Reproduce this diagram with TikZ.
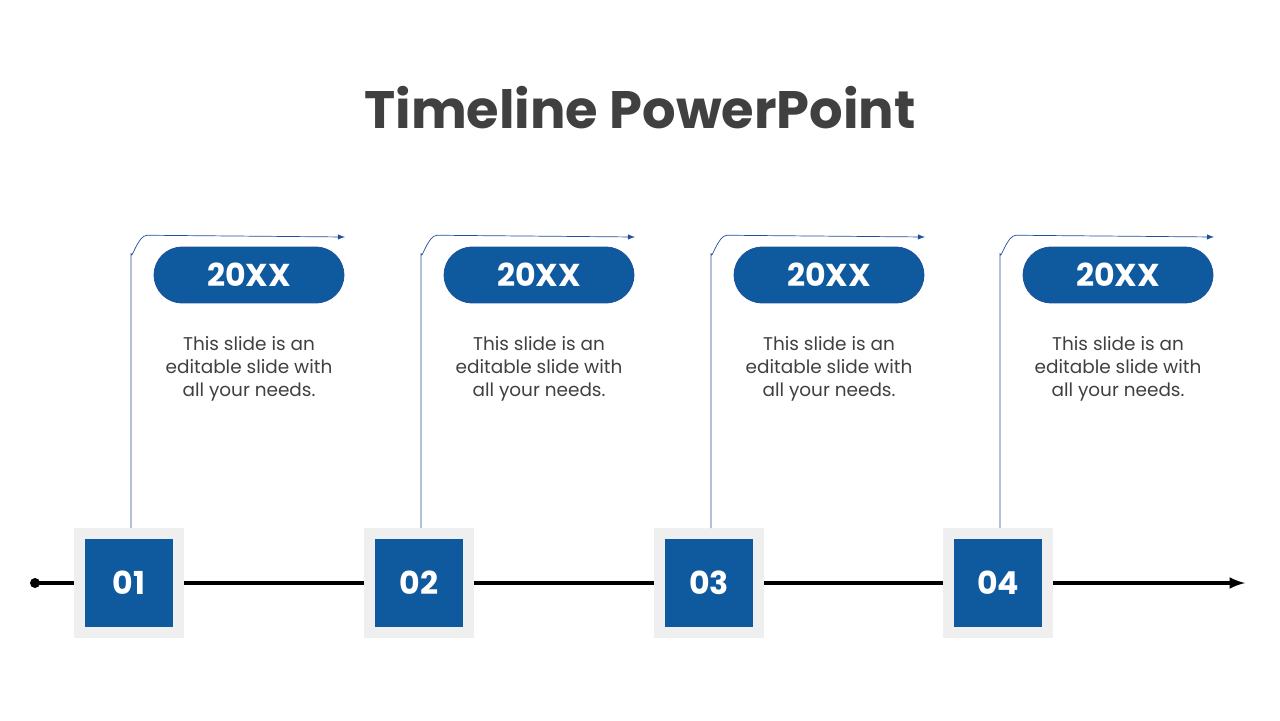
\documentclass[tikz,border=0pt]{standalone}
\usepackage{fontspec}
\setmainfont{Poppins}
\usetikzlibrary{positioning}
\definecolor{tlblue}{HTML}{0F5A9E}
\definecolor{tlline}{HTML}{1F4E9C}
\definecolor{tlgray}{HTML}{404040}
\definecolor{tlframe}{HTML}{EFEFEF}
\begin{document}
\begin{tikzpicture}[x=0.02cm,y=-0.02cm,>=latex,
  every node/.style={align=center},
  numbox/.style={fill=tlblue,draw=tlframe,line width=6pt,minimum size=1.98cm,inner sep=0pt,
    text=white,font=\bfseries\fontsize{18}{20}\selectfont},
  yearpill/.style={fill=tlblue,draw=tlline,rounded corners=0.56cm,minimum width=3.8cm,minimum height=1.12cm,
    text=white,font=\bfseries\fontsize{18}{20}\selectfont},
  desc/.style={text=tlgray,font=\fontsize{10.5}{13}\selectfont}]
  \useasboundingbox (0,0) rectangle (1280,720);
  \node[text=tlgray,font=\bfseries\fontsize{30}{34}\selectfont] (title) at (640,108) {Timeline PowerPoint};
  % main axis
  \fill (35,583) circle (5);
  \coordinate (start) at (35,583);
  \coordinate (end) at (1245,583);
  \draw[->,line width=2pt] (start) -- (end);
  \foreach \i/\x in {1/129,2/419,3/709,4/998}{
    \node[numbox] (n\i) at (\x,583) {0\i};
    \node[yearpill] (y\i) at (\x+120,275) {20XX};
    \node[desc] (d\i) at (\x+120,369) {This slide is an\\editable slide with\\all your needs.};
    \coordinate (a\i) at (\x+216,237);
    \draw[->,tlline,thin] ([xshift=0.04cm]n\i.north) -- ++(0,-275) to[out=-90,in=180] ++(16,-18) -- (a\i);
  }
\end{tikzpicture}
\end{document}
